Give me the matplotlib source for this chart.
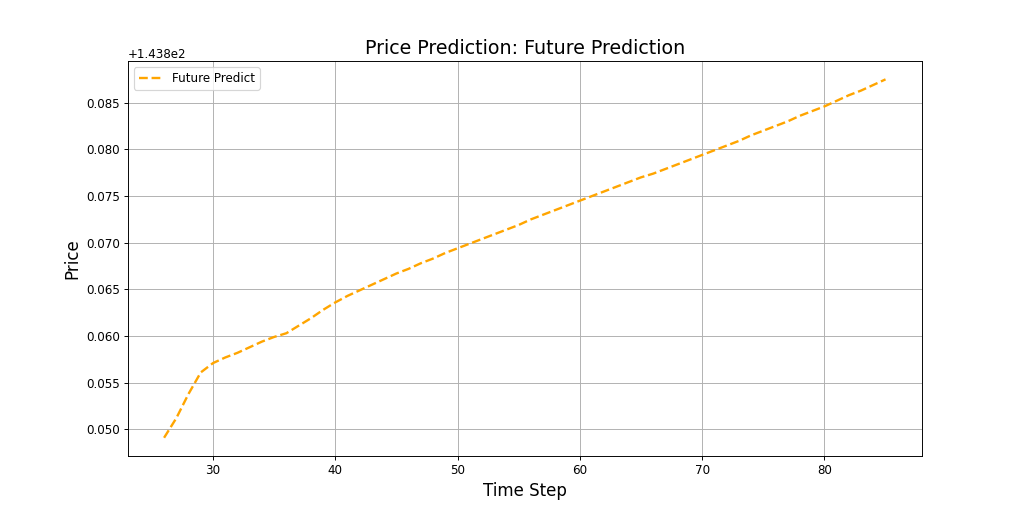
import matplotlib
matplotlib.use("Agg")
import matplotlib.pyplot as plt
import numpy as np

time_steps = list(range(26, 86))
offset_values = [
    0.0491, 0.0512, 0.0538, 0.0561, 0.0571, 0.0577, 0.0582, 0.0588, 0.0594, 0.0599,
    0.0603, 0.0611, 0.0619, 0.0628, 0.0636, 0.0643, 0.0649, 0.0655, 0.0661, 0.0667,
    0.0672, 0.0678, 0.0683, 0.0689, 0.0694, 0.0699, 0.0704, 0.0709, 0.0714, 0.0719,
    0.0725, 0.0730, 0.0735, 0.0740, 0.0745, 0.0750, 0.0755, 0.0760, 0.0765, 0.0770,
    0.0774, 0.0779, 0.0784, 0.0789, 0.0794, 0.0799, 0.0804, 0.0809, 0.0815, 0.0820,
    0.0825, 0.0830, 0.0836, 0.0841, 0.0846, 0.0852, 0.0858, 0.0863, 0.0869, 0.0875,
]
prices = [143.8 + v for v in offset_values]

DPI = 1024 / 12
fig, ax = plt.subplots(figsize=(12, 6), dpi=DPI)
ax.plot(time_steps, prices, linestyle='--', color='orange', linewidth=2, label='Future Predict')
ax.set_title('Price Prediction: Future Prediction', fontsize=16)
ax.set_xlabel('Time Step', fontsize=14)
ax.set_ylabel('Price', fontsize=14)
ax.legend(loc='upper left', fontsize=10)
ax.grid(True)
fig.savefig('out.png', dpi=DPI)
